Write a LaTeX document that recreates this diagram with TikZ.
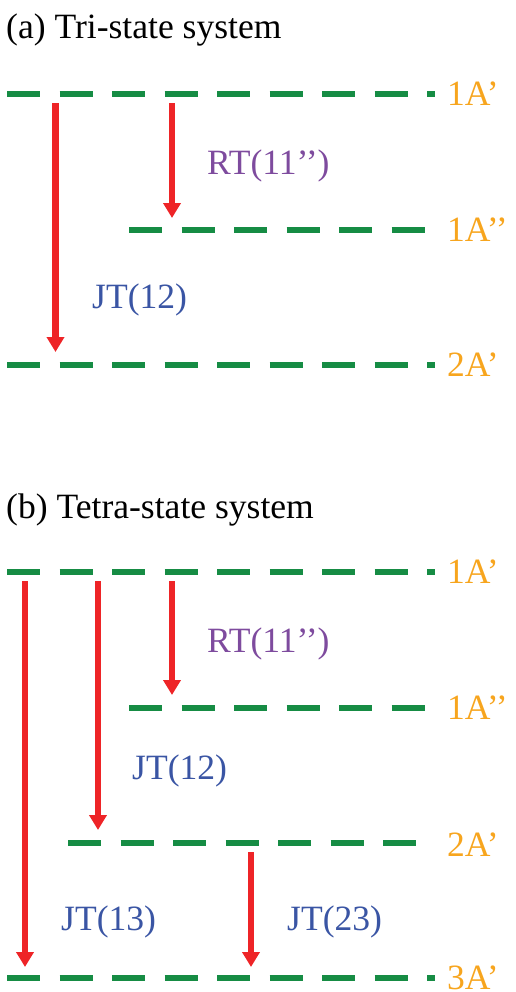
\documentclass[tikz,border=0pt]{standalone}
\usepackage{fontspec}
\setmainfont{Liberation Serif}
\usetikzlibrary{arrows.meta}
\definecolor{levelgreen}{RGB}{22,140,68}
\definecolor{transred}{RGB}{238,36,39}
\definecolor{stateorange}{RGB}{247,165,30}
\definecolor{rtpurple}{RGB}{126,75,158}
\definecolor{jtblue}{RGB}{58,85,164}
\tikzset{
  level/.style={draw=levelgreen, line width=5.5bp, line cap=butt,
    dash pattern=on 33bp off 19.5bp},
  trans/.style={draw=transred, line width=6.5bp,
    -{Triangle[width=17bp,length=15bp]}},
  statelbl/.style={text=stateorange, anchor=base west, inner sep=0pt},
  rtlbl/.style={text=rtpurple, anchor=base west, inner sep=0pt},
  jtlbl/.style={text=jtblue, anchor=base west, inner sep=0pt},
  title/.style={text=black, anchor=base west, inner sep=0pt},
}
\begin{document}
\begin{tikzpicture}[x=1bp,y=-1bp,font=\fontsize{35.7}{40}\selectfont]
\useasboundingbox (0,0) rectangle (516,992);

% ---------- (a) three states ----------
\node[title] (ta) at (6,38) {(a) Tri-state system};

\coordinate (a1L) at (7,94);   \coordinate (a1R) at (435,94);
\coordinate (a2L) at (129,230); \coordinate (a2R) at (425,230);
\coordinate (a3L) at (7,365);  \coordinate (a3R) at (435,365);
\draw[level] (a1L) -- (a1R);
\draw[level] (a2L) -- (a2R);
\draw[level] (a3L) -- (a3R);
\node[statelbl] (a1) at (447,105) {1A’};
\node[statelbl] (a2) at (447,241) {1A’’};
\node[statelbl] (a3) at (447,376) {2A’};

\coordinate (aJs) at (55.5,103); \coordinate (aJe) at (55.5,352);
\coordinate (aRs) at (172,103);  \coordinate (aRe) at (172,218);
\draw[trans] (aJs) -- (aJe);
\draw[trans] (aRs) -- (aRe);
\node[rtlbl] (aRT) at (207,174) {RT(11’’)};
\node[jtlbl] (aJT) at (92,308) {JT(12)};

% ---------- (b) four states ----------
\node[title] (tb) at (6,518) {(b) Tetra-state system};

\coordinate (b1L) at (7,572);   \coordinate (b1R) at (435,572);
\coordinate (b2L) at (129,708); \coordinate (b2R) at (425,708);
\coordinate (b3L) at (68,843);  \coordinate (b3R) at (416,843);
\coordinate (b4L) at (7,978);   \coordinate (b4R) at (435,978);
\draw[level] (b1L) -- (b1R);
\draw[level] (b2L) -- (b2R);
\draw[level] (b3L) -- (b3R);
\draw[level] (b4L) -- (b4R);
\node[statelbl] (b1) at (447,583) {1A’};
\node[statelbl] (b2) at (447,719) {1A’’};
\node[statelbl] (b3) at (447,856) {2A’};
\node[statelbl] (b4) at (447,989) {3A’};

\coordinate (b13s) at (25,581);  \coordinate (b13e) at (25,967);
\coordinate (b12s) at (98,581);  \coordinate (b12e) at (98,830);
\coordinate (bRs)  at (172,581); \coordinate (bRe)  at (172,695);
\coordinate (b23s) at (251,852); \coordinate (b23e) at (251,967);
\draw[trans] (b13s) -- (b13e);
\draw[trans] (b12s) -- (b12e);
\draw[trans] (bRs) -- (bRe);
\draw[trans] (b23s) -- (b23e);
\node[rtlbl] (bRT) at (207,652) {RT(11’’)};
\node[jtlbl] (bJT12) at (132,779) {JT(12)};
\node[jtlbl] (bJT13) at (61,930) {JT(13)};
\node[jtlbl] (bJT23) at (287,930) {JT(23)};
\end{tikzpicture}
\end{document}
